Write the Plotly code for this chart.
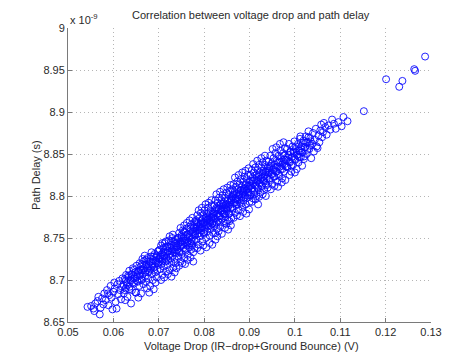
import plotly.graph_objects as go

# Voltage drop (V) and path delay (units of 1e-9 s), grouped by x range
voltage_drop = [
    # 0.054-0.058
    0.0543, 0.0551, 0.0556, 0.0560, 0.0565, 0.0570, 0.0572, 0.0575, 0.0578, 0.0558, 0.0567, 0.0580,
    # 0.058-0.062
    0.0583, 0.0586, 0.0589, 0.0591, 0.0594, 0.0596, 0.0598, 0.0600, 0.0603, 0.0605, 0.0607, 0.0609, 0.0611, 0.0613, 0.0615, 0.0617, 0.0619, 0.0620, 0.0588, 0.0602,
    # 0.062-0.066
    0.0622, 0.0623, 0.0625, 0.0627, 0.0628, 0.0630, 0.0631, 0.0633, 0.0635, 0.0636, 0.0638, 0.0640, 0.0641, 0.0643, 0.0644, 0.0646, 0.0648, 0.0649, 0.0651, 0.0652, 0.0654, 0.0655, 0.0657, 0.0658, 0.0659, 0.0650, 0.0655, 0.0661, 0.0626, 0.0639,
    # 0.066-0.070
    0.0661, 0.0662, 0.0663, 0.0665, 0.0666, 0.0667, 0.0668, 0.0670, 0.0671, 0.0672, 0.0673, 0.0675, 0.0676, 0.0677, 0.0678, 0.0680, 0.0681, 0.0682, 0.0683, 0.0685, 0.0686, 0.0687, 0.0688, 0.0690, 0.0691, 0.0692, 0.0693, 0.0694, 0.0695, 0.0697, 0.0698, 0.0699, 0.0669, 0.0674, 0.0684, 0.0689, 0.0696, 0.0679, 0.0664, 0.0700,
    # 0.070-0.074
    0.0701, 0.0702, 0.0703, 0.0704, 0.0705, 0.0706, 0.0707, 0.0708, 0.0709, 0.0710, 0.0711, 0.0712, 0.0713, 0.0714, 0.0715, 0.0716, 0.0717, 0.0718, 0.0719, 0.0720, 0.0721, 0.0722, 0.0723, 0.0724, 0.0725, 0.0726, 0.0727, 0.0728, 0.0729, 0.0730, 0.0731, 0.0732, 0.0733, 0.0734, 0.0735, 0.0736, 0.0737, 0.0738, 0.0739, 0.0740, 0.0705, 0.0712, 0.0720, 0.0728, 0.0735, 0.0708, 0.0716, 0.0724, 0.0731, 0.0739,
    # 0.074-0.078
    0.0741, 0.0742, 0.0743, 0.0744, 0.0745, 0.0746, 0.0747, 0.0748, 0.0749, 0.0750, 0.0751, 0.0752, 0.0753, 0.0754, 0.0755, 0.0756, 0.0757, 0.0758, 0.0759, 0.0760, 0.0761, 0.0762, 0.0763, 0.0764, 0.0765, 0.0766, 0.0767, 0.0768, 0.0769, 0.0770, 0.0771, 0.0772, 0.0773, 0.0774, 0.0775, 0.0776, 0.0777, 0.0778, 0.0779, 0.0780, 0.0745, 0.0752, 0.0758, 0.0764, 0.0770, 0.0776, 0.0748, 0.0756, 0.0762, 0.0768, 0.0774, 0.0750, 0.0760, 0.0772, 0.0779,
    # 0.078-0.082
    0.0781, 0.0782, 0.0783, 0.0784, 0.0785, 0.0786, 0.0787, 0.0788, 0.0789, 0.0790, 0.0791, 0.0792, 0.0793, 0.0794, 0.0795, 0.0796, 0.0797, 0.0798, 0.0799, 0.0800, 0.0801, 0.0802, 0.0803, 0.0804, 0.0805, 0.0806, 0.0807, 0.0808, 0.0809, 0.0810, 0.0811, 0.0812, 0.0813, 0.0814, 0.0815, 0.0816, 0.0817, 0.0818, 0.0819, 0.0820, 0.0785, 0.0792, 0.0798, 0.0805, 0.0812, 0.0818, 0.0829, 0.0825, 0.0788, 0.0795, 0.0803, 0.0810, 0.0816, 0.0783, 0.0791, 0.0799, 0.0807, 0.0814, 0.0800, 0.0819,
    # 0.082-0.086
    0.0821, 0.0822, 0.0823, 0.0824, 0.0825, 0.0826, 0.0827, 0.0828, 0.0829, 0.0830, 0.0831, 0.0832, 0.0833, 0.0834, 0.0835, 0.0836, 0.0837, 0.0838, 0.0839, 0.0840, 0.0841, 0.0842, 0.0843, 0.0844, 0.0845, 0.0846, 0.0847, 0.0848, 0.0849, 0.0850, 0.0851, 0.0852, 0.0853, 0.0854, 0.0855, 0.0856, 0.0857, 0.0858, 0.0859, 0.0860, 0.0824, 0.0832, 0.0839, 0.0846, 0.0853, 0.0859, 0.0827, 0.0835, 0.0843, 0.0851, 0.0858, 0.0822, 0.0830, 0.0838, 0.0845, 0.0852, 0.0849, 0.0856, 0.0841, 0.0834,
    # 0.086-0.090
    0.0861, 0.0862, 0.0863, 0.0864, 0.0865, 0.0866, 0.0867, 0.0868, 0.0869, 0.0870, 0.0871, 0.0872, 0.0873, 0.0874, 0.0875, 0.0876, 0.0877, 0.0878, 0.0879, 0.0880, 0.0881, 0.0882, 0.0883, 0.0884, 0.0885, 0.0886, 0.0887, 0.0888, 0.0889, 0.0890, 0.0891, 0.0892, 0.0893, 0.0894, 0.0895, 0.0896, 0.0897, 0.0898, 0.0899, 0.0900, 0.0865, 0.0872, 0.0879, 0.0886, 0.0893, 0.0899, 0.0868, 0.0876, 0.0884, 0.0891, 0.0898, 0.0863, 0.0870, 0.0878, 0.0887,
    # 0.090-0.094
    0.0901, 0.0902, 0.0903, 0.0904, 0.0905, 0.0906, 0.0907, 0.0908, 0.0909, 0.0910, 0.0911, 0.0912, 0.0913, 0.0914, 0.0915, 0.0916, 0.0917, 0.0918, 0.0919, 0.0920, 0.0921, 0.0922, 0.0923, 0.0924, 0.0925, 0.0926, 0.0927, 0.0928, 0.0929, 0.0930, 0.0931, 0.0932, 0.0933, 0.0934, 0.0935, 0.0936, 0.0937, 0.0938, 0.0939, 0.0940, 0.0905, 0.0913, 0.0921, 0.0929, 0.0936, 0.0908, 0.0917, 0.0926, 0.0934, 0.0919,
    # 0.094-0.098
    0.0941, 0.0942, 0.0944, 0.0945, 0.0946, 0.0948, 0.0949, 0.0950, 0.0952, 0.0953, 0.0954, 0.0956, 0.0957, 0.0958, 0.0960, 0.0961, 0.0962, 0.0964, 0.0965, 0.0966, 0.0968, 0.0969, 0.0970, 0.0972, 0.0973, 0.0974, 0.0976, 0.0977, 0.0978, 0.0980, 0.0947, 0.0955, 0.0963, 0.0971, 0.0979, 0.0951, 0.0959, 0.0967, 0.0975, 0.0943,
    # 0.098-0.102
    0.0981, 0.0983, 0.0984, 0.0986, 0.0987, 0.0989, 0.0990, 0.0992, 0.0993, 0.0995, 0.0996, 0.0998, 0.0999, 0.1001, 0.1002, 0.1004, 0.1005, 0.1007, 0.1008, 0.1010, 0.1011, 0.1013, 0.1014, 0.1016, 0.1017, 0.1019, 0.1020, 0.0988, 0.1000, 0.1012,
    # 0.102-0.106
    0.1022, 0.1024, 0.1026, 0.1028, 0.1030, 0.1032, 0.1034, 0.1036, 0.1038, 0.1040, 0.1042, 0.1044, 0.1046, 0.1048, 0.1050, 0.1052, 0.1054, 0.1056, 0.1058, 0.1060, 0.1064,
    # 0.106-0.112
    0.1062, 0.1067, 0.1070, 0.1074, 0.1078, 0.1082, 0.1086, 0.1090, 0.1096, 0.1103, 0.1107, 0.1116,
    # outliers
    0.1152, 0.1201, 0.1230, 0.1237, 0.1263, 0.1265, 0.1287,
]

path_delay_ns = [
    # 0.054-0.058
    8.668, 8.669, 8.666, 8.672, 8.675, 8.659, 8.667, 8.678, 8.671, 8.663, 8.680, 8.684,
    # 0.058-0.062
    8.676, 8.688, 8.670, 8.682, 8.693, 8.679, 8.665, 8.686, 8.690, 8.674, 8.666, 8.695, 8.683, 8.699, 8.688, 8.677, 8.692, 8.702, 8.684, 8.697,
    # 0.062-0.066
    8.694, 8.684, 8.701, 8.690, 8.706, 8.697, 8.680, 8.703, 8.711, 8.692, 8.699, 8.707, 8.688, 8.714, 8.702, 8.696, 8.709, 8.685, 8.717, 8.704, 8.698, 8.711, 8.693, 8.720, 8.707, 8.685, 8.679, 8.684, 8.676, 8.672,
    # 0.066-0.070
    8.712, 8.701, 8.719, 8.707, 8.695, 8.714, 8.723, 8.704, 8.711, 8.698, 8.718, 8.726, 8.709, 8.702, 8.716, 8.722, 8.693, 8.713, 8.728, 8.707, 8.719, 8.700, 8.724, 8.715, 8.731, 8.709, 8.697, 8.721, 8.727, 8.712, 8.734, 8.718, 8.729, 8.690, 8.733, 8.689, 8.703, 8.685, 8.725, 8.725,
    # 0.070-0.074
    8.722, 8.736, 8.713, 8.728, 8.741, 8.719, 8.731, 8.706, 8.725, 8.738, 8.716, 8.729, 8.744, 8.722, 8.733, 8.710, 8.727, 8.740, 8.718, 8.735, 8.724, 8.747, 8.730, 8.712, 8.738, 8.726, 8.742, 8.721, 8.734, 8.750, 8.729, 8.715, 8.739, 8.745, 8.725, 8.736, 8.720, 8.748, 8.732, 8.741, 8.700, 8.703, 8.707, 8.704, 8.709, 8.744, 8.746, 8.752, 8.754, 8.714,
    # 0.074-0.078
    8.736, 8.750, 8.728, 8.743, 8.756, 8.733, 8.746, 8.722, 8.740, 8.753, 8.731, 8.747, 8.759, 8.738, 8.750, 8.726, 8.744, 8.757, 8.735, 8.749, 8.761, 8.741, 8.754, 8.730, 8.746, 8.763, 8.739, 8.752, 8.744, 8.758, 8.736, 8.766, 8.749, 8.741, 8.755, 8.733, 8.762, 8.747, 8.769, 8.753, 8.717, 8.720, 8.719, 8.724, 8.727, 8.722, 8.762, 8.765, 8.768, 8.771, 8.774, 8.742, 8.737, 8.743, 8.738,
    # 0.078-0.082
    8.758, 8.771, 8.748, 8.764, 8.777, 8.755, 8.768, 8.742, 8.761, 8.774, 8.752, 8.767, 8.780, 8.759, 8.771, 8.746, 8.764, 8.777, 8.756, 8.769, 8.783, 8.761, 8.774, 8.750, 8.766, 8.779, 8.758, 8.772, 8.786, 8.764, 8.776, 8.753, 8.769, 8.782, 8.761, 8.774, 8.789, 8.767, 8.779, 8.756, 8.738, 8.735, 8.741, 8.739, 8.744, 8.742, 8.752, 8.748, 8.783, 8.786, 8.790, 8.792, 8.795, 8.766, 8.762, 8.768, 8.771, 8.765, 8.755, 8.770,
    # 0.082-0.086
    8.776, 8.789, 8.766, 8.782, 8.795, 8.773, 8.786, 8.761, 8.779, 8.792, 8.770, 8.784, 8.798, 8.776, 8.789, 8.764, 8.782, 8.795, 8.773, 8.787, 8.801, 8.779, 8.792, 8.768, 8.785, 8.798, 8.776, 8.790, 8.804, 8.782, 8.794, 8.771, 8.788, 8.801, 8.779, 8.792, 8.806, 8.785, 8.797, 8.774, 8.756, 8.758, 8.755, 8.762, 8.760, 8.765, 8.802, 8.805, 8.808, 8.810, 8.813, 8.780, 8.775, 8.783, 8.779, 8.786, 8.767, 8.770, 8.790, 8.769,
    # 0.086-0.090
    8.795, 8.808, 8.785, 8.801, 8.814, 8.792, 8.805, 8.780, 8.798, 8.811, 8.789, 8.803, 8.817, 8.795, 8.808, 8.783, 8.801, 8.814, 8.792, 8.806, 8.820, 8.798, 8.811, 8.787, 8.804, 8.817, 8.795, 8.809, 8.823, 8.801, 8.813, 8.790, 8.807, 8.820, 8.798, 8.811, 8.825, 8.804, 8.816, 8.793, 8.774, 8.777, 8.776, 8.781, 8.779, 8.784, 8.822, 8.825, 8.828, 8.830, 8.833, 8.799, 8.796, 8.802, 8.806,
    # 0.090-0.094
    8.812, 8.825, 8.802, 8.818, 8.831, 8.809, 8.822, 8.797, 8.815, 8.828, 8.806, 8.820, 8.834, 8.812, 8.825, 8.800, 8.818, 8.831, 8.809, 8.823, 8.837, 8.815, 8.828, 8.804, 8.821, 8.834, 8.812, 8.826, 8.840, 8.818, 8.830, 8.807, 8.824, 8.837, 8.815, 8.828, 8.842, 8.821, 8.833, 8.810, 8.793, 8.796, 8.799, 8.802, 8.800, 8.838, 8.842, 8.845, 8.848, 8.790,
    # 0.094-0.098
    8.828, 8.841, 8.819, 8.835, 8.848, 8.826, 8.839, 8.814, 8.832, 8.845, 8.823, 8.837, 8.851, 8.829, 8.842, 8.817, 8.835, 8.848, 8.826, 8.840, 8.854, 8.832, 8.845, 8.821, 8.838, 8.851, 8.829, 8.843, 8.857, 8.835, 8.808, 8.812, 8.811, 8.816, 8.819, 8.856, 8.858, 8.862, 8.864, 8.833,
    # 0.098-0.102
    8.843, 8.856, 8.834, 8.849, 8.862, 8.840, 8.853, 8.829, 8.846, 8.859, 8.837, 8.851, 8.865, 8.843, 8.856, 8.832, 8.849, 8.862, 8.840, 8.854, 8.868, 8.846, 8.859, 8.836, 8.852, 8.866, 8.844, 8.825, 8.828, 8.871,
    # 0.102-0.106
    8.858, 8.871, 8.850, 8.864, 8.877, 8.856, 8.869, 8.845, 8.862, 8.875, 8.853, 8.867, 8.880, 8.859, 8.857, 8.872, 8.864, 8.878, 8.885, 8.870, 8.887,
    # 0.106-0.112
    8.876, 8.882, 8.873, 8.884, 8.879, 8.891, 8.886, 8.880, 8.888, 8.883, 8.894, 8.889,
    # outliers
    8.901, 8.939, 8.930, 8.937, 8.951, 8.949, 8.966,
]

# Extra points filling the dense core of the band (read as the solid-blue region)
core_voltage_drop = [
    0.06250, 0.06275, 0.06300, 0.06325, 0.06350, 0.06375, 0.06400, 0.06425, 0.06450, 0.06475,
    0.06500, 0.06525, 0.06550, 0.06575, 0.06600, 0.06625, 0.06650, 0.06675, 0.06700, 0.06725,
    0.06750, 0.06775, 0.06800, 0.06825, 0.06850, 0.06875, 0.06900, 0.06925, 0.06950, 0.06975,
    0.07000, 0.07025, 0.07050, 0.07075, 0.07100, 0.07125, 0.07150, 0.07175, 0.07200, 0.07225,
    0.07250, 0.07275, 0.07300, 0.07325, 0.07350, 0.07375, 0.07400, 0.07425, 0.07450, 0.07475,
    0.07500, 0.07525, 0.07550, 0.07575, 0.07600, 0.07625, 0.07650, 0.07675, 0.07700, 0.07725,
    0.07750, 0.07775, 0.07800, 0.07825, 0.07850, 0.07875, 0.07900, 0.07925, 0.07950, 0.07975,
    0.08000, 0.08025, 0.08050, 0.08075, 0.08100, 0.08125, 0.08150, 0.08175, 0.08200, 0.08225,
    0.08250, 0.08275, 0.08300, 0.08325, 0.08350, 0.08375, 0.08400, 0.08425, 0.08450, 0.08475,
    0.08500, 0.08525, 0.08550, 0.08575, 0.08600, 0.08625, 0.08650, 0.08675, 0.08700, 0.08725,
    0.08750, 0.08775, 0.08800, 0.08825, 0.08850, 0.08875, 0.08900, 0.08925, 0.08950, 0.08975,
    0.09000, 0.09025, 0.09050, 0.09075, 0.09100, 0.09125, 0.09150, 0.09175, 0.09200, 0.09225,
    0.09250, 0.09275, 0.09300, 0.09325, 0.09350, 0.09375, 0.09400, 0.09425, 0.09450, 0.09475,
    0.09500, 0.09525, 0.09550, 0.09575, 0.09600, 0.09625, 0.09650, 0.09675, 0.09700, 0.09725,
    0.09750, 0.09775, 0.09800, 0.09825, 0.09850, 0.09875, 0.09900, 0.09925, 0.09950, 0.09975,
    0.10000, 0.10025, 0.10050, 0.10075, 0.10100, 0.10125, 0.10150, 0.10175, 0.10200, 0.10225,
    0.10250, 0.10275, 0.10300, 0.10325, 0.10350,
]

core_path_delay_ns = [
    8.688, 8.699, 8.694, 8.705, 8.689, 8.700, 8.706, 8.697, 8.712, 8.702,
    8.707, 8.699, 8.710, 8.705, 8.716, 8.700, 8.712, 8.718, 8.709, 8.724,
    8.714, 8.719, 8.711, 8.722, 8.717, 8.728, 8.712, 8.723, 8.729, 8.720,
    8.735, 8.725, 8.730, 8.722, 8.733, 8.728, 8.739, 8.723, 8.734, 8.740,
    8.731, 8.746, 8.736, 8.741, 8.733, 8.744, 8.739, 8.750, 8.734, 8.745,
    8.751, 8.742, 8.757, 8.747, 8.752, 8.744, 8.755, 8.750, 8.761, 8.746,
    8.757, 8.763, 8.754, 8.769, 8.759, 8.764, 8.756, 8.767, 8.762, 8.773,
    8.757, 8.768, 8.774, 8.765, 8.780, 8.770, 8.775, 8.767, 8.778, 8.773,
    8.784, 8.768, 8.779, 8.785, 8.776, 8.791, 8.781, 8.786, 8.778, 8.789,
    8.784, 8.795, 8.779, 8.790, 8.796, 8.787, 8.802, 8.792, 8.797, 8.790,
    8.801, 8.796, 8.807, 8.791, 8.802, 8.808, 8.799, 8.814, 8.804, 8.809,
    8.801, 8.812, 8.807, 8.818, 8.802, 8.813, 8.819, 8.810, 8.825, 8.815,
    8.820, 8.812, 8.823, 8.818, 8.829, 8.813, 8.824, 8.830, 8.821, 8.836,
    8.826, 8.831, 8.823, 8.834, 8.829, 8.840, 8.824, 8.835, 8.841, 8.832,
    8.848, 8.838, 8.843, 8.835, 8.846, 8.841, 8.852, 8.836, 8.847, 8.853,
    8.844, 8.859, 8.849, 8.854, 8.846, 8.857, 8.852, 8.863, 8.847, 8.858,
    8.864, 8.855, 8.870, 8.860, 8.865,
]

x_tick_vals = [0.05, 0.06, 0.07, 0.08, 0.09, 0.10, 0.11, 0.12, 0.13]
x_tick_text = ["0.05", "0.06", "0.07", "0.08", "0.09", "0.1", "0.11", "0.12", "0.13"]
y_tick_vals = [8.65, 8.70, 8.75, 8.80, 8.85, 8.90, 8.95, 9.00]
y_tick_text = ["8.65", "8.7", "8.75", "8.8", "8.85", "8.9", "8.95", "9"]

title_text = "Correlation between voltage drop and path delay"
x_title = "Voltage Drop (IR\u2212drop+Ground Bounce) (V)"
y_title = "Path Delay (s)"
exponent_text = "x 10<sup>-9</sup>"

FONT = "Liberation Sans, Arial, sans-serif"
TXT = "#2a2a2a"
BLUE = "#0a0aff"

all_x = voltage_drop + core_voltage_drop
all_y = path_delay_ns + core_path_delay_ns

fig = go.Figure()
fig.add_trace(go.Scatter(
    x=all_x, y=all_y, mode="markers",
    marker=dict(symbol="circle-open", size=7, color=BLUE, line=dict(width=0.9, color=BLUE)),
    hoverinfo="skip", showlegend=False,
))

axis_common = dict(
    showgrid=True, gridcolor="#b5b5b5", griddash="1px,3px", gridwidth=1,
    showline=True, linecolor="#7a7a7a", linewidth=1, mirror=False,
    ticks="inside", ticklen=4, tickcolor="#7a7a7a",
    tickfont=dict(family=FONT, size=11, color=TXT),
    zeroline=False, fixedrange=True,
)

fig.update_layout(
    width=454, height=353,
    margin=dict(l=68, r=12, t=28, b=31),
    paper_bgcolor="white", plot_bgcolor="white",
    xaxis=dict(range=[0.05, 0.13], tickmode="array", tickvals=x_tick_vals, ticktext=x_tick_text, **axis_common),
    yaxis=dict(range=[8.65, 9.0], tickmode="array", tickvals=y_tick_vals, ticktext=y_tick_text, **axis_common),
    font=dict(family=FONT, size=11, color=TXT),
    annotations=[
        dict(text=title_text, xref="paper", yref="paper", x=0.505, y=1.044, xanchor="center", yanchor="middle",
             showarrow=False, font=dict(family=FONT, size=11, color=TXT)),
        dict(text=x_title, xref="paper", yref="paper", x=0.505, y=-0.08, xanchor="center", yanchor="middle",
             showarrow=False, font=dict(family=FONT, size=11, color=TXT)),
        dict(text=y_title, xref="paper", yref="paper", x=-0.088, y=0.5, xanchor="center", yanchor="middle",
             textangle=-90, showarrow=False, font=dict(family=FONT, size=11, color=TXT)),
        dict(text=exponent_text, xref="paper", yref="paper", x=0.0, y=1.03, xanchor="left", yanchor="middle",
             showarrow=False, font=dict(family=FONT, size=11, color=TXT)),
    ],
)

fig.write_html("out.html")
